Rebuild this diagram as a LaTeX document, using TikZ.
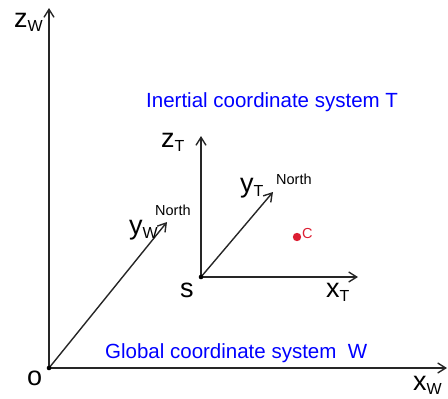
\documentclass[tikz,border=0pt]{standalone}
\usepackage{fontspec}
\setmainfont{Liberation Sans}
\usetikzlibrary{arrows.meta}
\definecolor{ptred}{RGB}{220,30,50}
\newcommand{\axlab}[2]{{\fontsize{27}{27}\selectfont #1}\raisebox{-4pt}{\fontsize{16}{16}\selectfont #2}}
\tikzset{
	axis/.style={line width=1.4pt,black!85,-{Straight Barb[length=8pt,width=10pt]}},
	lab/.style={anchor=base west,inner sep=0pt},
	big/.style={lab,font=\fontsize{27}{27}\selectfont},
	tiny/.style={lab,font=\fontsize{14.5}{14.5}\selectfont},
	title/.style={lab,blue,font=\fontsize{20.5}{20.5}\selectfont},
}
\begin{document}
\begin{tikzpicture}[x=1pt,y=-1pt,line join=round]
	\useasboundingbox (0,0) rectangle (448,399);
	% global system W
	\coordinate (O) at (49,368);
	\coordinate (zW) at (49,8);
	\coordinate (xW) at (447,368);
	\coordinate (yW) at (167,222);
	\draw[axis] (O) -- (zW);
	\draw[axis] (O) -- (xW);
	\draw[axis] (O) -- (yW);
	\fill (O) circle (2.3);
	\node[lab] (lzW) at (14,27) {\axlab{z}{W}};
	\node[lab] (lyW) at (129,234) {\axlab{y}{W}};
	\node[tiny] (nW) at (155,215) {North};
	\node[big] (lO) at (27,385) {o};
	\node[lab] (lxW) at (413,390) {\axlab{x}{W}};
	% inertial system T
	\coordinate (S) at (201,277);
	\coordinate (zT) at (201,136);
	\coordinate (xT) at (358,277);
	\coordinate (yT) at (273,192);
	\draw[axis] (S) -- (zT);
	\draw[axis] (S) -- (xT);
	\draw[axis] (S) -- (yT);
	\fill (S) circle (2.3);
	\node[lab] (lzT) at (161,147) {\axlab{z}{T}};
	\node[lab] (lyT) at (240,192) {\axlab{y}{T}};
	\node[tiny] (nT) at (276,184) {North};
	\node[big] (lS) at (180,297) {s};
	\node[lab] (lxT) at (326,297) {\axlab{x}{T}};
	% point C
	\fill[ptred] (297,237) circle (4.2) coordinate (C);
	\node[tiny,ptred] (lC) at (302,238) {C};
	% titles
	\node[title] (tT) at (146,107) {Inertial coordinate system T};
	\node[title] (tW) at (105,358) {Global coordinate system~~W};
\end{tikzpicture}
\end{document}
